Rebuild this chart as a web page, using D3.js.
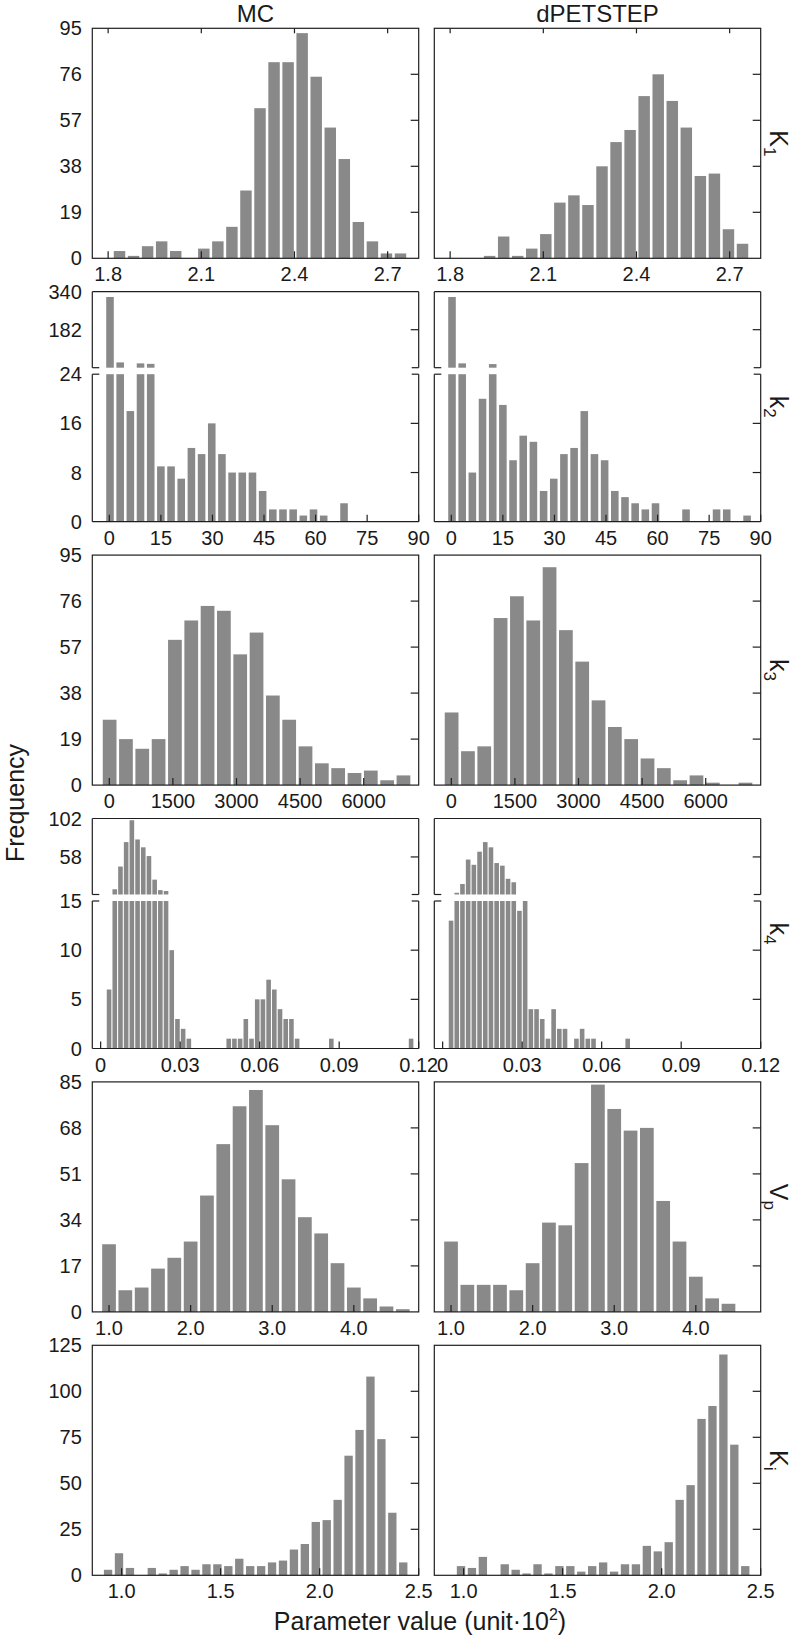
<!DOCTYPE html>
<html><head><meta charset="utf-8">
<script src="https://cdn.jsdelivr.net/npm/d3@7"></script>
<style>
body{margin:0;background:#fff}
text{font-family:"Liberation Sans",Arial,Helvetica,sans-serif;fill:#1a1a1a}
</style>
</head><body>
<svg id="chart" width="794" height="1637"></svg>
<script>
// ---------- data ----------
const columns = ["MC", "dPETSTEP"];
const xAxisTitle = "Parameter value (unit\u00B710";
const yAxisTitle = "Frequency";

// K1
const k1Ticks = [1.8, 2.1, 2.4, 2.7];
const k1Domain = [1.749, 2.8];
const k1Bins = [1.814, 0.04524];           // first bin edge, bin width
const k1YTicks = [0, 19, 38, 57, 76, 95];
const k1MC  = [3,1,5,7,3,0,4,7,13,28,62,81,81,93,75,54,41,15,7,2,2];
const k1PET = [0,0,1,9,1,4,10,23,26,22,38,48,53,67,76,65,54,34,35,12,6];

// k2 (broken axis)
const k2Ticks = [0, 15, 30, 45, 60, 75, 90];
const k2Domain = [-4.95, 90];
const k2Bins = [-1.28, 2.96];
const k2YLower = [0, 8, 16, 24];
const k2YUpper = [24, 182, 340];
const k2MC  = [318,46,18,42,40,9,9,7,12,11,16,11,8,8,8,5,2,2,2,1,2,1,0,3];
const k2PET = [318,42,8,20,39,19,10,14,13,5,7,11,12,18,11,10,5,4,3,2,3,0,0,2,0,0,2,2,0,1];

// k3
const k3Ticks = [0, 1500, 3000, 4500, 6000];
const k3Domain = [-401, 7297];
const k3Bins = [-185, 385];
const k3YTicks = [0, 19, 38, 57, 76, 95];
const k3MC  = [27,19,15,19,60,68,74,72,54,63,37,27,16,9,7,5,6,2,4];
const k3PET = [30,14,16,69,78,68,90,64,51,35,24,19,11,7,2,4,1,0,1];

// k4 (broken axis)
const k4Ticks = [0, 0.03, 0.06, 0.09, 0.12];
const k4Domain = [-0.00315, 0.12];
const k4Bins = [0.0021, 0.00215];
const k4YLower = [0, 5, 10, 15];
const k4YUpper = [15, 58, 102];
const k4MC  = [6,21,47,75,100,78,69,59,32,20,19,10,3,2,1,0,0,0,0,0,0,1,1,1,3,1,5,5,7,6,4,3,3,1,0,0,0,0,0,1,0,0,0,0,0,0,0,0,0,0,0,0,0,1];
const k4PET = [13,17,27,55,49,64,75,69,51,48,33,29,14,15,4,4,3,1,4,2,2,0,1,2,1,1,0,0,0,0,0,1];

// Vp
const vpTicks = [1.0, 2.0, 3.0, 4.0];
const vpDomain = [0.795, 4.795];
const vpBins = [0.9, 0.2];
const vpYTicks = [0, 17, 34, 51, 68, 85];
const vpMC  = [25,8,9,16,20,26,43,62,76,82,69,49,35,29,18,9,5,2,1];
const vpPET = [26,10,10,10,8,18,33,32,55,84,75,67,68,41,26,13,5,3];

// Ki
const kiTicks = [1.0, 1.5, 2.0, 2.5];
const kiDomain = [0.852, 2.5];
const kiBins = [0.904, 0.0552];
const kiYTicks = [0, 25, 50, 75, 100, 125];
const kiMC  = [3,12,4,0,4,1,3,5,3,6,6,5,9,5,5,7,8,14,17,29,30,41,65,79,108,74,34,7];
const kiPET = [0,5,4,10,0,6,3,1,6,1,5,5,2,5,7,2,6,6,16,13,18,41,49,85,92,120,71,5];

// ---------- rows built from the arrays ----------
const rows = [
  {name:"K", sub:"1", ticks:k1Ticks, dom:k1Domain, bins:k1Bins, fmt:d3.format(".1f"), y:k1YTicks, data:[k1MC,k1PET], topTicks:true},
  {name:"k", sub:"2", ticks:k2Ticks, dom:k2Domain, bins:k2Bins, fmt:d3.format("d"), lower:k2YLower, upper:k2YUpper, data:[k2MC,k2PET]},
  {name:"k", sub:"3", ticks:k3Ticks, dom:k3Domain, bins:k3Bins, fmt:d3.format("d"), y:k3YTicks, data:[k3MC,k3PET]},
  {name:"k", sub:"4", ticks:k4Ticks, dom:k4Domain, bins:k4Bins, fmt:d=>d===0?"0":d3.format(".2f")(d), lower:k4YLower, upper:k4YUpper, data:[k4MC,k4PET], gap:1.1},
  {name:"V", sub:"p", ticks:vpTicks, dom:vpDomain, bins:vpBins, fmt:d3.format(".1f"), y:vpYTicks, data:[vpMC,vpPET]},
  {name:"K", sub:"i", ticks:kiTicks, dom:kiDomain, bins:kiBins, fmt:d3.format(".1f"), y:kiYTicks, data:[kiMC,kiPET]}
];

// ---------- layout ----------
const colX = [92.3, 434.3];
const panelW = 326.4;
const rowTop0 = 28.3, rowStep = 263.4, panelH = 230;
const upperH = 76, gapH = 6.5;
const barColor = "#898989", lineColor = "#1e1e1e";
const tickFont = 20;

const svg = d3.select("#chart");

// column titles
columns.forEach((t, c) => {
  svg.append("text").attr("x", colX[c] + panelW / 2).attr("y", 21.5)
    .attr("text-anchor", "middle").attr("font-size", 24).text(t);
});

rows.forEach((row, r) => {
  const top = rowTop0 + r * rowStep;
  row.data.forEach((counts, c) => {
    const g = svg.append("g").attr("transform", `translate(${colX[c]},${top})`);
    const x = d3.scaleLinear().domain(row.dom).range([0, panelW]);
    const gap = row.gap || 2.6;
    const [b0, bw] = row.bins;
    const bars = counts.map((v, i) => ({v, x0: b0 + i * bw, x1: b0 + (i + 1) * bw})).filter(d => d.v > 0);
    const broken = !!row.lower;

    if (!broken) {
      const y = d3.scaleLinear().domain([0, d3.max(row.y)]).range([panelH, 0]);
      g.selectAll("rect.bar").data(bars).join("rect").attr("class", "bar")
        .attr("x", d => x(d.x0) + gap / 2).attr("width", d => x(d.x1) - x(d.x0) - gap)
        .attr("y", d => y(d.v)).attr("height", d => panelH - y(d.v)).attr("fill", barColor);
      g.append("rect").attr("width", panelW).attr("height", panelH)
        .attr("fill", "none").attr("stroke", lineColor).attr("stroke-width", 1.2);
      const inner = row.y.slice(1, -1);
      g.selectAll("line.rt").data(inner).join("line").attr("class", "rt")
        .attr("x1", panelW - 8).attr("x2", panelW).attr("y1", d => y(d)).attr("y2", d => y(d))
        .attr("stroke", lineColor).attr("stroke-width", 1.2);
      if (c === 0) {
        g.selectAll("text.yl").data(row.y).join("text").attr("class", "yl")
          .attr("x", -10.5).attr("y", d => y(d)).attr("dy", "0.35em")
          .attr("text-anchor", "end").attr("font-size", tickFont).text(d => d);
      }
    } else {
      const lo = row.lower, up = row.upper;
      const loMax = d3.max(lo);
      const yL = d3.scaleLinear().domain([0, loMax]).range([panelH, upperH + gapH]);
      const yU = d3.scaleLinear().domain([up[0], d3.max(up)]).range([upperH, 0]);
      g.selectAll("rect.lo").data(bars).join("rect").attr("class", "lo")
        .attr("x", d => x(d.x0) + gap / 2).attr("width", d => x(d.x1) - x(d.x0) - gap)
        .attr("y", d => yL(Math.min(d.v, loMax))).attr("height", d => panelH - yL(Math.min(d.v, loMax)))
        .attr("fill", barColor);
      g.selectAll("rect.up").data(bars.filter(d => d.v > up[0])).join("rect").attr("class", "up")
        .attr("x", d => x(d.x0) + gap / 2).attr("width", d => x(d.x1) - x(d.x0) - gap)
        .attr("y", d => yU(d.v)).attr("height", d => upperH - yU(d.v)).attr("fill", barColor);
      const L = (x1, y1, x2, y2) => g.append("line").attr("x1", x1).attr("y1", y1).attr("x2", x2).attr("y2", y2)
        .attr("stroke", lineColor).attr("stroke-width", 1.2);
      L(0, 0, panelW, 0); L(0, panelH, panelW, panelH);
      L(0, 0, 0, upperH); L(0, upperH + gapH, 0, panelH);
      L(panelW, 0, panelW, upperH); L(panelW, upperH + gapH, panelW, panelH);
      [upperH, upperH + gapH].forEach(yy => { L(0, yy, 7, yy); L(panelW - 7, yy, panelW, yy); });
      lo.slice(1, -1).forEach(t => L(panelW - 8, yL(t), panelW, yL(t)));
      up.slice(1, -1).forEach(t => L(panelW - 8, yU(t), panelW, yU(t)));
      if (c === 0) {
        g.selectAll("text.yl").data(lo).join("text").attr("class", "yl")
          .attr("x", -10.5).attr("y", d => yL(d)).attr("dy", "0.35em")
          .attr("text-anchor", "end").attr("font-size", tickFont).text(d => d);
        g.selectAll("text.yu").data(up.slice(1)).join("text").attr("class", "yu")
          .attr("x", -10.5).attr("y", d => yU(d)).attr("dy", "0.35em")
          .attr("text-anchor", "end").attr("font-size", tickFont).text(d => d);
      }
    }
    g.selectAll("line.bt").data(row.ticks).join("line").attr("class", "bt")
      .attr("x1", d => x(d)).attr("x2", d => x(d)).attr("y1", panelH - 7).attr("y2", panelH)
      .attr("stroke", lineColor).attr("stroke-width", 1.2);
    if (row.topTicks) {
      g.selectAll("line.tt").data(row.ticks).join("line").attr("class", "tt")
        .attr("x1", d => x(d)).attr("x2", d => x(d)).attr("y1", 0).attr("y2", 5)
        .attr("stroke", lineColor).attr("stroke-width", 1.2);
    }
    g.selectAll("text.xl").data(row.ticks).join("text").attr("class", "xl")
      .attr("x", d => x(d)).attr("y", panelH + 23).attr("text-anchor", "middle")
      .attr("font-size", tickFont).text(d => row.fmt(d));

    if (c === 1) {
      const t = svg.append("text").attr("transform", `translate(770,${top + panelH / 2}) rotate(90)`)
        .attr("text-anchor", "middle").attr("font-size", 25);
      t.append("tspan").text(row.name);
      t.append("tspan").attr("font-size", 17).attr("dy", 6).text(row.sub);
    }
  });
});

// axis titles
svg.append("text").attr("transform", "translate(23.5,803) rotate(-90)")
  .attr("text-anchor", "middle").attr("font-size", 25).text(yAxisTitle);
const xt = svg.append("text").attr("x", 420).attr("y", 1630).attr("text-anchor", "middle").attr("font-size", 25);
xt.append("tspan").text(xAxisTitle);
xt.append("tspan").attr("font-size", 16).attr("dy", -10).text("2");
xt.append("tspan").attr("dy", 10).text(")");
</script>
</body></html>
